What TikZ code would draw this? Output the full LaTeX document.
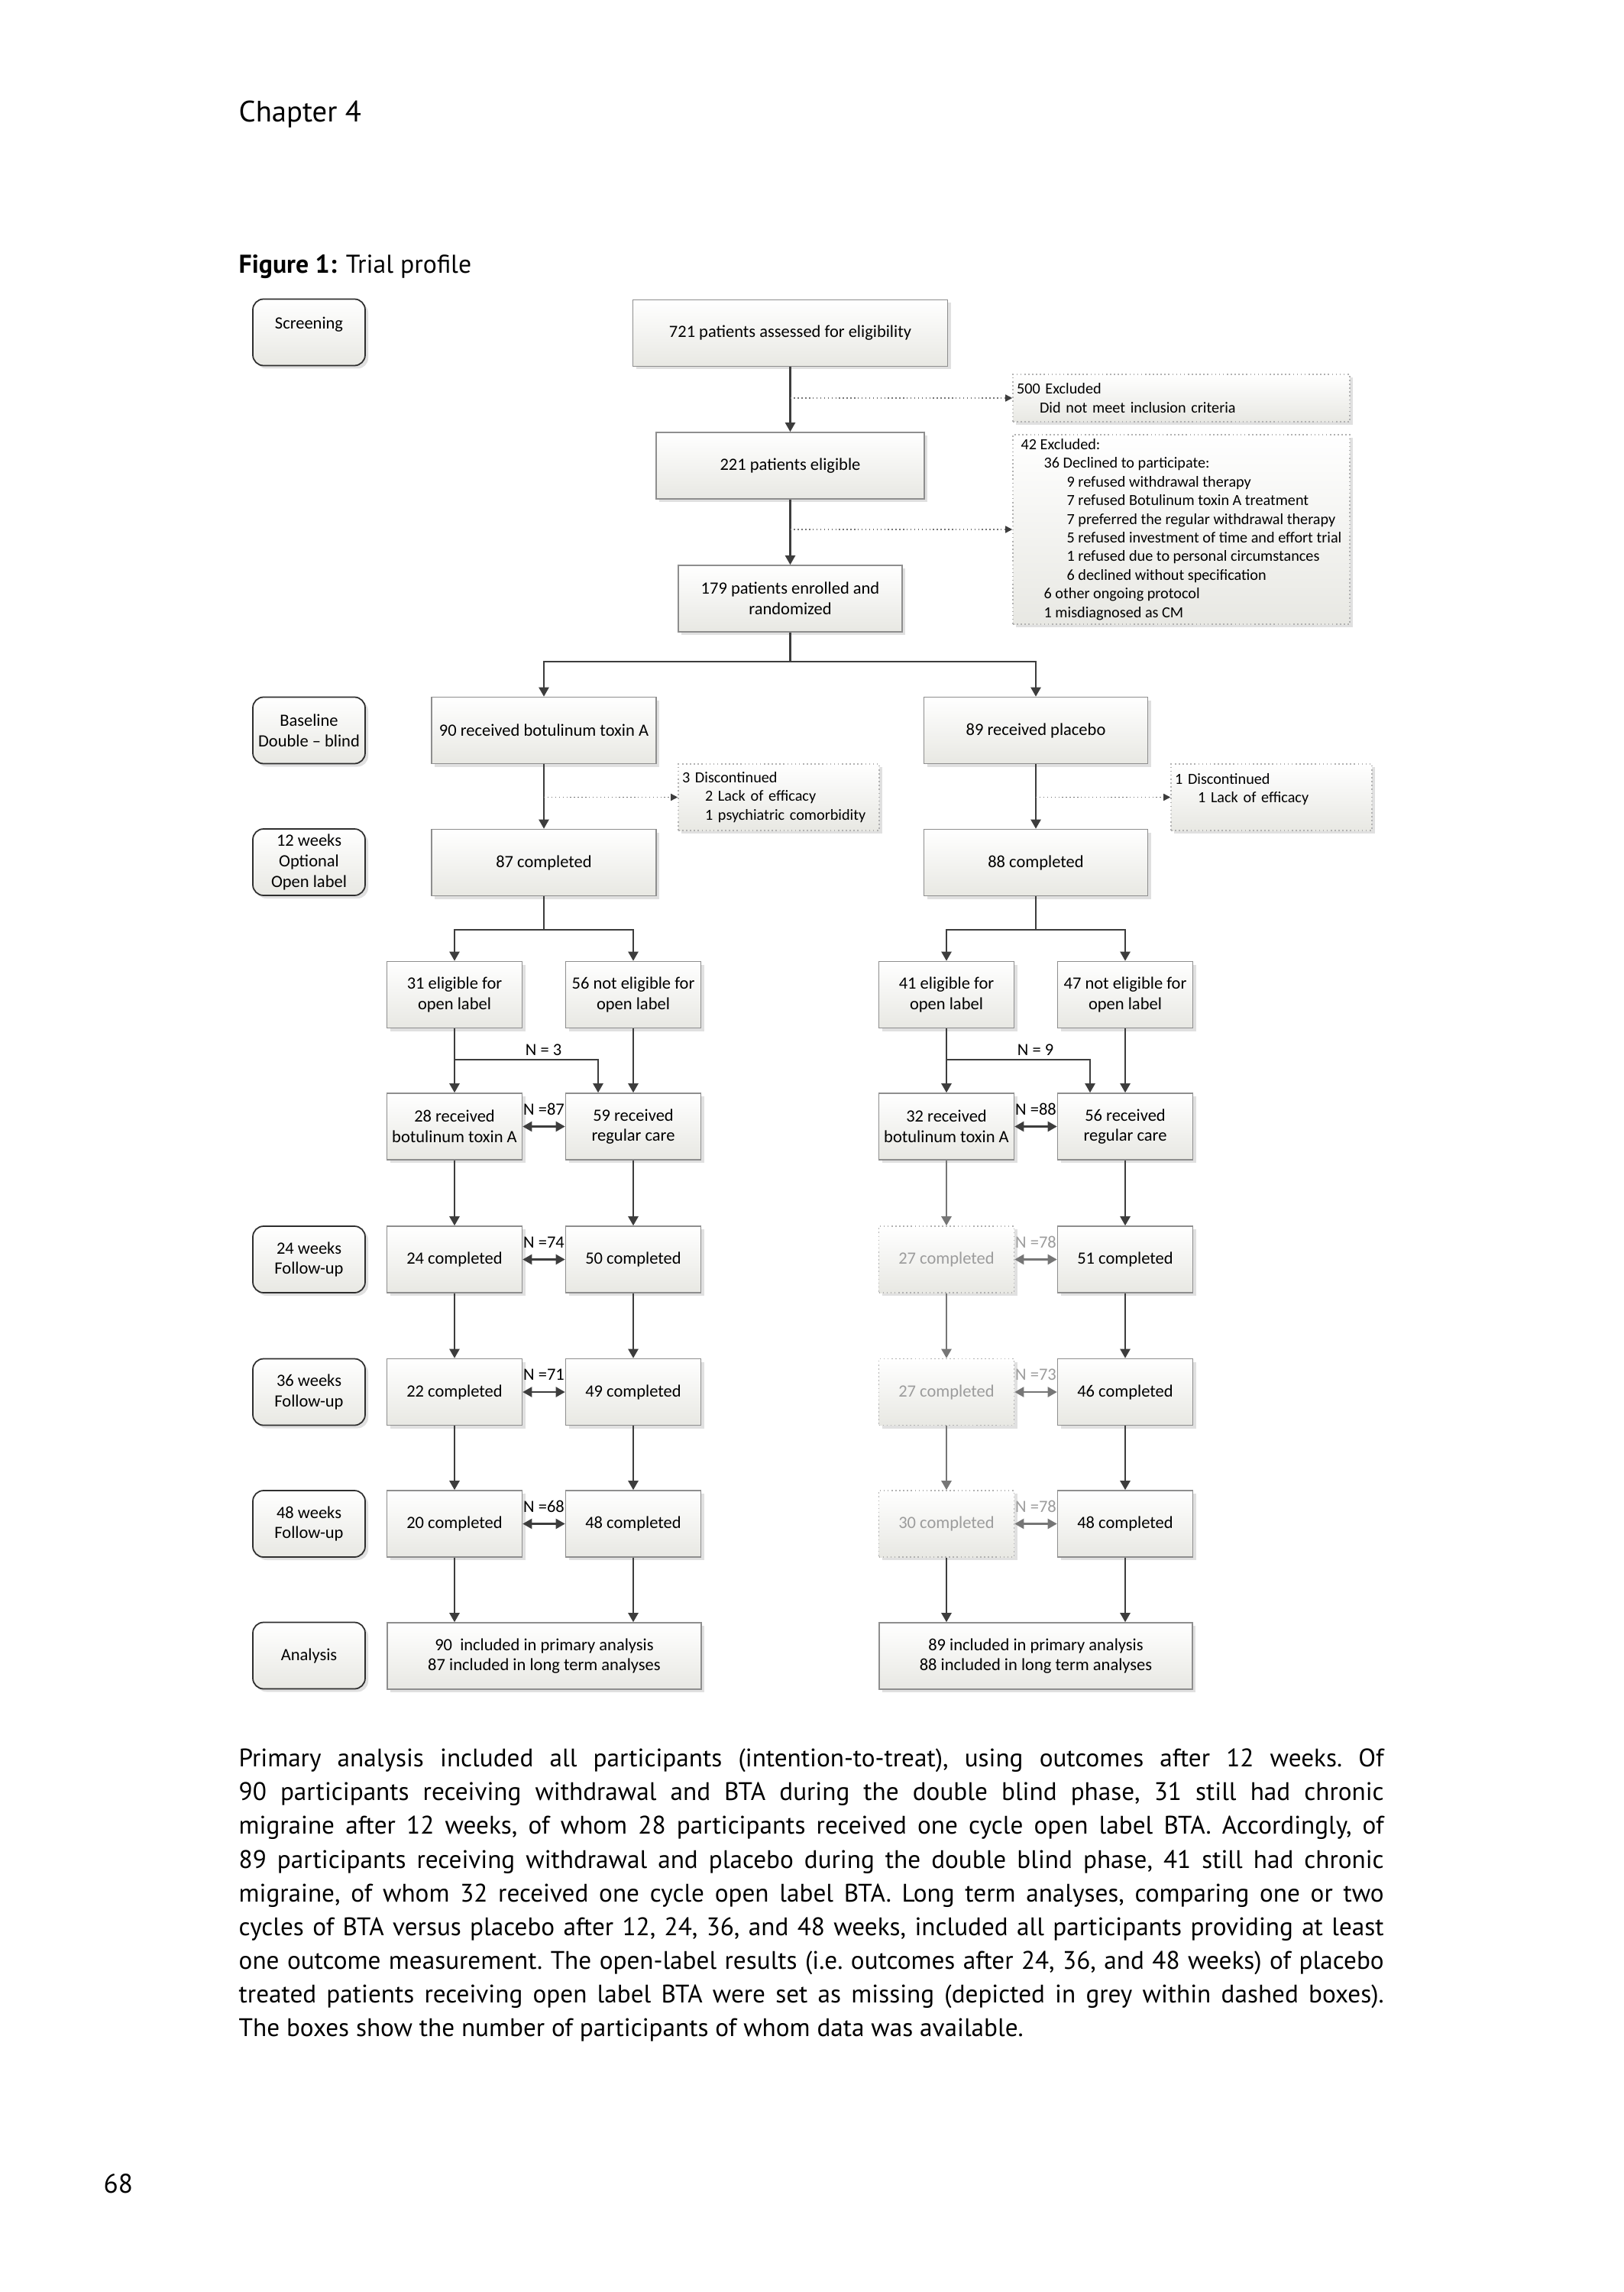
\documentclass[tikz,border=0pt]{standalone}
\usepackage{fontspec}
\setmainfont{PT Sans}[WordSpace={1,1,2.5}]
\newfontfamily\chartfont{Carlito}
\usetikzlibrary{arrows.meta, positioning, shadows}
\definecolor{linedark}{HTML}{3D3D3D}
\definecolor{linegrey}{HTML}{767676}
\definecolor{boxedge}{HTML}{8E8E8E}
\definecolor{phaseedge}{HTML}{2E2E2E}
\definecolor{dotedge}{HTML}{B2B2B2}
\definecolor{fillbot}{HTML}{E8E8E3}
\definecolor{greytext}{HTML}{9C9C9C}
\newcommand{\indA}{\hspace*{3mm}}
\newcommand{\indB}{\hspace*{6mm}}

\begin{document}
\begin{tikzpicture}[
  >={Triangle[length=1.2mm,width=1.3mm]},
  boxfont/.style={font=\chartfont\fontsize{6.4}{7.6}\selectfont},
  sidefont/.style={font=\chartfont\fontsize{5.75}{6.95}\selectfont},
  shade box/.style={top color=white, bottom color=fillbot,
    drop shadow={shadow xshift=0.4mm, shadow yshift=-0.4mm, fill=black, opacity=0.12}},
  phase/.style={shade box, boxfont, draw=phaseedge, line width=0.5pt, rounded corners=1.4mm,
    minimum width=1.47cm, minimum height=0.87cm, align=center, inner sep=1pt},
  flow/.style={shade box, boxfont, draw=boxedge, line width=0.45pt,
    minimum height=0.87cm, align=center, inner sep=1pt},
  missing/.style={flow, draw=dotedge, densely dotted, text=greytext, minimum width=1.77cm},
  small/.style={flow, minimum width=1.77cm},
  side/.style={shade box, sidefont, draw=dotedge, densely dotted, line width=0.45pt,
    align=left, inner xsep=0.5mm, inner ysep=1pt},
  trunk/.style={draw=linedark, line width=0.65pt},
  link/.style={->, draw=linedark, line width=0.65pt},
  greylink/.style={->, draw=linegrey, line width=0.65pt},
  pair/.style={<->, draw=linedark, line width=0.65pt},
  greypair/.style={<->, draw=linegrey, line width=0.65pt},
  exclarrow/.style={-{Triangle[length=0.9mm,width=0.9mm,color=linedark]}, draw=linegrey,
    densely dotted, line width=0.4pt},
  nlab/.style={boxfont, above=1.4mm, inner sep=0pt},
  greynlab/.style={nlab, text=greytext},
]
  \fill[white] (0,0) rectangle (21.25,-30);
  \useasboundingbox (0,0) rectangle (21.25,-30);

  % Page text
  \node[anchor=base west, inner sep=0pt, font=\fontsize{11}{13}\selectfont] (chap) at (3.12,-1.60) {Chapter 4};
  \node[anchor=base west, inner sep=0pt, font=\fontsize{9.6}{12}\selectfont] (title) at (3.12,-3.58) {\textbf{Figure 1:} Trial profile};

  % Phases
  \node[phase, text depth=2.4mm] (screen) at (4.045,-4.35) {Screening};
  \node[phase] (base) at (4.045,-9.56) {Baseline\\Double – blind};
  \node[phase] (wk12) at (4.045,-11.285) {12 weeks\\Optional\\Open label};
  \node[phase] (wk24) at (4.045,-16.485) {24 weeks\\Follow-up};
  \node[phase] (wk36) at (4.045,-18.22) {36 weeks\\Follow-up};
  \node[phase] (wk48) at (4.045,-19.945) {48 weeks\\Follow-up};
  \node[phase] (anal) at (4.045,-21.67) {Analysis};

  % Screening and randomisation
  \node[flow, minimum width=4.12cm] (assess) at (10.345,-4.36) {721 patients assessed for eligibility};
  \node[side, text width=4.31cm, minimum height=0.62cm] (excl1) at (15.465,-5.21)
    {500 Excluded\\\indA Did not meet inclusion criteria};
  \node[flow, minimum width=3.51cm] (elig) at (10.345,-6.095) {221 patients eligible};
  \node[side, minimum width=4.41cm, minimum height=2.48cm] (excl2) at (15.465,-6.93)
    {42 Excluded:\\
     \indA 36 Declined to participate:\\
     \indB 9 refused withdrawal therapy\\
     \indB 7 refused Botulinum toxin A treatment\\
     \indB 7 preferred the regular withdrawal therapy\\
     \indB 5 refused investment of time and effort trial\\
     \indB 1 refused due to personal circumstances\\
     \indB 6 declined without specification\\
     \indA 6 other ongoing protocol\\
     \indA 1 misdiagnosed as CM};
  \node[flow, minimum width=2.93cm] (rand) at (10.345,-7.835) {179 patients enrolled and\\randomized};

  % Double blind arms
  \node[flow, minimum width=2.94cm] (bta) at (7.12,-9.56) {90 received botulinum toxin A};
  \node[flow, minimum width=2.93cm] (plc) at (13.56,-9.56) {89 received placebo};
  \node[side, text width=2.53cm, minimum height=0.87cm] (disc1) at (10.195,-10.435)
    {3 Discontinued\\\indA 2 Lack of efficacy\\\indA 1 psychiatric comorbidity};
  \node[side, text width=2.53cm, minimum height=0.87cm] (disc2) at (16.645,-10.435)
    {1 Discontinued\\\indA 1 Lack of efficacy\\\mbox{}};
  \node[flow, minimum width=2.94cm] (comp1) at (7.12,-11.29) {87 completed};
  \node[flow, minimum width=2.93cm] (comp2) at (13.56,-11.29) {88 completed};

  % Open label
  \node[small] (eligA) at (5.95,-13.02) {31 eligible for\\open label};
  \node[small] (neligA) at (8.29,-13.02) {56 not eligible for\\open label};
  \node[small] (eligB) at (12.39,-13.02) {41 eligible for\\open label};
  \node[small] (neligB) at (14.73,-13.02) {47 not eligible for\\open label};
  \node[small] (recA) at (5.95,-14.745) {28 received\\botulinum toxin A};
  \node[small] (recB) at (8.29,-14.745) {59 received\\regular care};
  \node[small] (recC) at (12.39,-14.745) {32 received\\botulinum toxin A};
  \node[small] (recD) at (14.73,-14.745) {56 received\\regular care};

  % Follow-up
  \node[small] (fuA24) at (5.95,-16.485) {24 completed};
  \node[small] (fuB24) at (8.29,-16.485) {50 completed};
  \node[missing] (fuC24) at (12.39,-16.485) {27 completed};
  \node[small] (fuD24) at (14.73,-16.485) {51 completed};
  \node[small] (fuA36) at (5.95,-18.22) {22 completed};
  \node[small] (fuB36) at (8.29,-18.22) {49 completed};
  \node[missing] (fuC36) at (12.39,-18.22) {27 completed};
  \node[small] (fuD36) at (14.73,-18.22) {46 completed};
  \node[small] (fuA48) at (5.95,-19.945) {20 completed};
  \node[small] (fuB48) at (8.29,-19.945) {48 completed};
  \node[missing] (fuC48) at (12.39,-19.945) {30 completed};
  \node[small] (fuD48) at (14.73,-19.945) {48 completed};

  % Analysis
  \node[flow, minimum width=4.11cm] (anaA) at (7.125,-21.675) {90\ \ included in primary analysis\\87 included in long term analyses};
  \node[flow, minimum width=4.10cm] (anaB) at (13.56,-21.675) {89 included in primary analysis\\88 included in long term analyses};

  % Connectors: screening
  \draw[link] (assess) -- (elig);
  \draw[link] (elig) -- (rand);
  \coordinate (x1) at (assess.south |- excl1.west);
  \coordinate (x2) at (elig.south |- excl2.west);
  \draw[exclarrow] (x1) -- (excl1.west);
  \draw[exclarrow] (x2) -- (excl2.west);
  \coordinate[below=0.38cm of rand.south] (r0);
  \draw[trunk] (rand) -- (r0);
  \draw[link] (r0) -| (bta);
  \draw[link] (r0) -| (plc);

  % Connectors: double blind
  \draw[link] (bta) -- (comp1);
  \draw[link] (plc) -- (comp2);
  \coordinate (d1) at (bta.south |- disc1.west);
  \coordinate (d2) at (plc.south |- disc2.west);
  \draw[exclarrow] (d1) -- (disc1.west);
  \draw[exclarrow] (d2) -- (disc2.west);
  \coordinate[below=0.44cm of comp1.south] (c1);
  \coordinate[below=0.44cm of comp2.south] (c2);
  \draw[trunk] (comp1) -- (c1);
  \draw[trunk] (comp2) -- (c2);
  \draw[link] (c1) -| (eligA);
  \draw[link] (c1) -| (neligA);
  \draw[link] (c2) -| (eligB);
  \draw[link] (c2) -| (neligB);

  % Connectors: open label
  \draw[link] (eligA) -- (recA);
  \draw[link] (neligA) -- (recB);
  \draw[link] (eligB) -- (recC);
  \draw[link] (neligB) -- (recD);
  \coordinate[below=0.41cm of eligA.south] (j1);
  \coordinate[below=0.41cm of eligB.south] (j2);
  \draw[link] (j1) -| node[pos=0.31, above=0.5mm, boxfont, inner sep=0pt] (n3) {N = 3} ([xshift=-4.6mm]recB.north);
  \draw[link] (j2) -| node[pos=0.31, above=0.5mm, boxfont, inner sep=0pt] (n9) {N = 9} ([xshift=-4.6mm]recD.north);
  \draw[pair] (recA) -- node[nlab] (l87) {N =87} (recB);
  \draw[pair] (recC) -- node[nlab] (l88) {N =88} (recD);

  % Connectors: follow-up
  \draw[link] (recA) -- (fuA24);
  \draw[link] (recB) -- (fuB24);
  \draw[greylink] (recC) -- (fuC24);
  \draw[link] (recD) -- (fuD24);
  \draw[link] (fuA24) -- (fuA36);
  \draw[link] (fuB24) -- (fuB36);
  \draw[greylink] (fuC24) -- (fuC36);
  \draw[link] (fuD24) -- (fuD36);
  \draw[link] (fuA36) -- (fuA48);
  \draw[link] (fuB36) -- (fuB48);
  \draw[greylink] (fuC36) -- (fuC48);
  \draw[link] (fuD36) -- (fuD48);
  \draw[pair] (fuA24) -- node[nlab] (l74) {N =74} (fuB24);
  \draw[pair] (fuA36) -- node[nlab] (l71) {N =71} (fuB36);
  \draw[pair] (fuA48) -- node[nlab] (l68) {N =68} (fuB48);
  \draw[greypair] (fuC24) -- node[greynlab] (l78a) {N =78} (fuD24);
  \draw[greypair] (fuC36) -- node[greynlab] (l73) {N =73} (fuD36);
  \draw[greypair] (fuC48) -- node[greynlab] (l78b) {N =78} (fuD48);
  \draw[link] (fuA48) -- (fuA48 |- anaA.north);
  \draw[link] (fuB48) -- (fuB48 |- anaA.north);
  \draw[link] (fuC48) -- (fuC48 |- anaB.north);
  \draw[link] (fuD48) -- (fuD48 |- anaB.north);

  % Caption text and page number
  \node[anchor=north west, inner sep=0pt, text width=14.99cm, align=justify,
    font=\fontsize{9.45}{12.56}\selectfont] (para) at (3.12,-22.81)
    {\frenchspacing\strut Primary analysis included all participants (intention-to-treat), using outcomes after 12 weeks. Of\linebreak
     90 participants receiving withdrawal and BTA during the double blind phase, 31 still had chronic\linebreak
     migraine after 12 weeks, of whom 28 participants received one cycle open label BTA. Accordingly, of\linebreak
     89 participants receiving withdrawal and placebo during the double blind phase, 41 still had chronic\linebreak
     migraine, of whom 32 received one cycle open label BTA. Long term analyses, comparing one or two\linebreak
     cycles of BTA versus placebo after 12, 24, 36, and 48 weeks, included all participants providing at least\linebreak
     one outcome measurement. The open-label results (i.e. outcomes after 24, 36, and 48 weeks) of placebo\linebreak
     treated patients receiving open label BTA were set as missing (depicted in grey within dashed boxes).\linebreak
     The boxes show the number of participants of whom data was available.};
  \node[anchor=base west, inner sep=0pt, font=\fontsize{10}{12}\selectfont] (pnum) at (1.35,-28.70) {68};
\end{tikzpicture}
\end{document}
